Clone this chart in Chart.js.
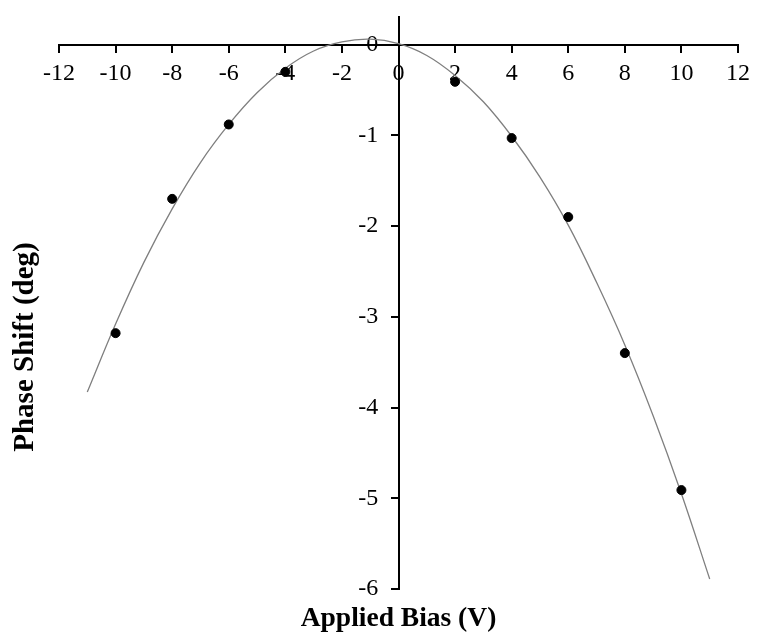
<!DOCTYPE html>
<html>
<head>
<meta charset="utf-8">
<script src="https://cdn.jsdelivr.net/npm/chart.js@4"></script>
<style>
  body { margin: 0; background: #fff; }
  #wrap { width: 758px; height: 639px; }
</style>
</head>
<body>
<div id="wrap"><canvas id="graphe"></canvas></div>
<script>
// mesures (points noirs)
const biasPoints = [-10, -8, -6, -4, 2, 4, 6, 8, 10]
const phasePoints = [-3.18, -1.70, -0.88, -0.30, -0.41, -1.03, -1.90, -3.40, -4.91]

// courbe de tendance
const biasCurve = [-11, -10, -9, -8, -7, -6, -5, -4, -3, -2, -1, 0, 1, 2, 3, 4, 5, 6, 7, 8, 9, 10, 11]
const phaseCurve = [-3.83, -3.08, -2.40, -1.81, -1.30, -0.88, -0.53, -0.26, -0.07, 0.03, 0.06, 0.01, -0.12, -0.34, -0.63, -1.01, -1.46, -1.99, -2.62, -3.31, -4.09, -4.95, -5.89]

// graduations
const xTicks = [-12, -10, -8, -6, -4, -2, 0, 2, 4, 6, 8, 10, 12]
const yTicks = [-6, -5, -4, -3, -2, -1, 0]

const titreX = 'Applied Bias (V)'
const titreY = 'Phase Shift (deg)'

const serif = "'Liberation Serif', 'Times New Roman', serif"

let pointsData = []
for (let i = 0; i < biasPoints.length; i++) {
  pointsData.push({x: biasPoints[i], y: phasePoints[i]})
}
let curveData = []
for (let i = 0; i < biasCurve.length; i++) {
  curveData.push({x: biasCurve[i], y: phaseCurve[i]})
}

const setTicks = (list) => (scale) => { scale.ticks = list.map(v => ({value: v})) }
const noSpace = (scale) => { scale.width = 0; scale.height = 0 }

const graphe = new Chart(document.getElementById('graphe'), {
  type: 'scatter',
  data: {
    datasets: [
      {
        label: 'mesures',
        data: pointsData,
        backgroundColor: '#000',
        borderColor: '#000',
        pointRadius: 4.5,
        showLine: false
      },
      {
        label: 'tendance',
        data: curveData,
        borderColor: '#7f7f7f',
        borderWidth: 1.3,
        pointRadius: 0,
        showLine: true,
        tension: 0.4
      }
    ]
  },
  options: {
    responsive: true,
    maintainAspectRatio: false,
    animation: false,
    layout: { padding: { top: 16, right: 17, left: 59, bottom: 0 } },
    plugins: { legend: { display: false }, tooltip: { enabled: false } },
    scales: {
      x: {
        type: 'linear', min: -12, max: 12,
        position: { y: 0 },
        afterBuildTicks: setTicks(xTicks),
        afterFit: noSpace,
        border: { display: true, color: '#000', width: 2 },
        grid: { drawOnChartArea: false, drawTicks: true, tickLength: 7, color: '#000', lineWidth: 2 },
        ticks: { color: '#000', padding: 8, maxRotation: 0, autoSkip: false, font: { family: serif, size: 24 } }
      },
      y: {
        type: 'linear', min: -6, max: 0.3,
        position: { x: 0 },
        afterBuildTicks: setTicks(yTicks),
        afterFit: noSpace,
        border: { display: true, color: '#000', width: 2 },
        grid: { drawOnChartArea: false, drawTicks: true, tickLength: 7, color: '#000', lineWidth: 2 },
        ticks: { display: false }
      },
      // axe fantôme pour placer les étiquettes de l'axe y à gauche de la ligne
      yLab: {
        type: 'linear', min: -6, max: 0.3,
        position: { x: -0.72 },
        afterBuildTicks: setTicks(yTicks),
        afterFit: noSpace,
        border: { display: false },
        grid: { display: false },
        ticks: { color: '#000', font: { family: serif, size: 24 } }
      },
      // titre de l'axe x
      xTitre: {
        type: 'linear', min: -12, max: 12,
        position: 'bottom',
        afterFit: (s) => { s.height = 50 },
        border: { display: false },
        grid: { display: false },
        ticks: { display: false },
        title: { display: true, text: titreX, color: '#000', padding: { top: 0, bottom: 4 }, font: { family: serif, size: 27.5, weight: 'bold' } }
      }
    }
  },
  plugins: [{
    id: 'fond',
    beforeDraw: (chart) => {
      const ctx = chart.ctx
      ctx.save()
      ctx.fillStyle = '#fff'
      ctx.fillRect(0, 0, chart.width, chart.height)
      ctx.restore()
    },
    // titre vertical de l'axe y
    afterDraw: (chart) => {
      const ctx = chart.ctx
      ctx.save()
      ctx.translate(26, 347)
      ctx.rotate(-Math.PI / 2)
      ctx.font = 'bold 29px ' + serif
      ctx.fillStyle = '#000'
      ctx.textAlign = 'center'
      ctx.textBaseline = 'middle'
      ctx.fillText(titreY, 0, 0)
      ctx.restore()
    }
  }]
});
</script>
</body>
</html>
